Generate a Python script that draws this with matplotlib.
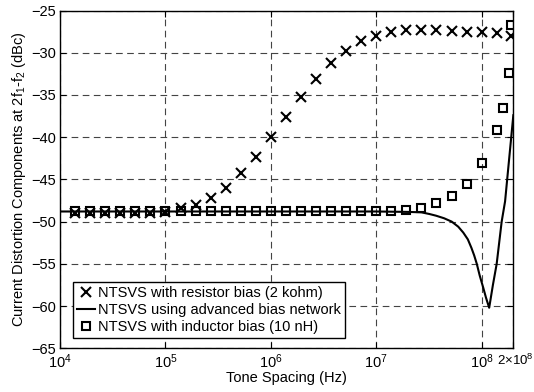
import matplotlib
matplotlib.use("Agg")
import matplotlib.pyplot as plt
import matplotlib.transforms as mtransforms

plt.rcParams['font.family'] = ['Liberation Sans', 'DejaVu Sans']
plt.rcParams['mathtext.default'] = 'regular'
plt.rcParams['font.size'] = 10

# tone spacing grid of the measured points (Hz)
freq = [1.39e4, 1.93e4, 2.68e4, 3.73e4, 5.18e4, 7.20e4,
        1e5, 1.39e5, 1.93e5, 2.68e5, 3.73e5, 5.18e5, 7.20e5,
        1e6, 1.39e6, 1.93e6, 2.68e6, 3.73e6, 5.18e6, 7.20e6,
        1e7, 1.39e7, 1.93e7, 2.68e7, 3.73e7, 5.18e7, 7.20e7,
        1e8, 1.39e8, 1.90e8]

resistor_db = [-49.0, -49.0, -49.0, -49.0, -49.0, -49.0,
               -48.9, -48.4, -48.0, -47.2, -46.0, -44.3, -42.3,
               -40.0, -37.6, -35.3, -33.1, -31.2, -29.8, -28.6,
               -28.0, -27.5, -27.3, -27.3, -27.3, -27.4, -27.5,
               -27.5, -27.7, -28.0]

ind_freq = [1.39e4, 1.93e4, 2.68e4, 3.73e4, 5.18e4, 7.20e4,
            1e5, 1.39e5, 1.93e5, 2.68e5, 3.73e5, 5.18e5, 7.20e5,
            1e6, 1.39e6, 1.93e6, 2.68e6, 3.73e6, 5.18e6, 7.20e6,
            1e7, 1.39e7, 1.93e7, 2.68e7, 3.73e7, 5.18e7, 7.20e7,
            1e8, 1.39e8, 1.58e8, 1.82e8, 1.89e8]
inductor_db = [-48.8, -48.8, -48.8, -48.8, -48.8, -48.8,
               -48.8, -48.8, -48.8, -48.8, -48.8, -48.8, -48.8,
               -48.8, -48.8, -48.8, -48.8, -48.8, -48.8, -48.8,
               -48.8, -48.75, -48.6, -48.35, -47.85, -47.0, -45.5,
               -43.0, -39.2, -36.6, -32.4, -26.7]

adv_freq = [1e4, 1e5, 1e6, 1e7, 2e7, 2.68e7, 3.2e7, 3.7e7, 4.4e7, 5.2e7,
            6.0e7, 6.7e7, 7.4e7, 8.0e7, 8.5e7, 9.0e7, 9.6e7, 1.035e8,
            1.1e8, 1.18e8, 1.28e8, 1.39e8, 1.55e8, 1.67e8, 2e8]
adv_db = [-48.8, -48.8, -48.8, -48.8, -48.85, -48.9, -49.1, -49.3, -49.6, -50.0,
          -50.6, -51.3, -52.1, -53.1, -54.0, -55.0, -56.4, -57.8,
          -59.0, -60.2, -57.5, -55.0, -50.0, -47.6, -37.4]

xticks = [1e4, 1e5, 1e6, 1e7, 1e8, 2e8]
xtick_labels = ['$10^{4}$', '$10^{5}$', '$10^{6}$', '$10^{7}$', '$10^{8}$', '$2{\\times}10^{8}$']
yticks = [-65, -60, -55, -50, -45, -40, -35, -30, -25]

fig = plt.figure(figsize=(5.34, 3.92), dpi=100)
ax = fig.add_axes([0.1125, 0.1115, 0.8488, 0.8617])

ax.plot(freq, resistor_db, 'x', color='black', markersize=7.5, markeredgewidth=1.5,
        linestyle='none', label='NTSVS with resistor bias (2 kohm)')
ax.plot(adv_freq, adv_db, '-', color='black', linewidth=1.5,
        label='NTSVS using advanced bias network')
ax.plot(ind_freq, inductor_db, 's', color='black', markerfacecolor='none', markersize=6,
        markeredgewidth=1.5, linestyle='none', label='NTSVS with inductor bias (10 nH)')

ax.set_xscale('log')
ax.set_xlim(1e4, 2e8)
ax.set_ylim(-65, -25)
ax.set_xticks(xticks)
ax.set_xticklabels(xtick_labels)
ax.minorticks_off()
ax.set_yticks(yticks)
ax.tick_params(direction='in', top=True, right=True, length=4, width=0.8, labelsize=10.5, pad=3)
ax.grid(True, color='#444444', linestyle=(0, (6, 4)), linewidth=0.8)
for s in ax.spines.values():
    s.set_linewidth(1.0)

# the 2x10^8 label sits just right of 10^8, a bit smaller so it stays inside
last = ax.get_xticklabels()[-1]
last.set_fontsize(9.5)
last.set_transform(last.get_transform() + mtransforms.ScaledTranslation(2 / 100, 0, fig.dpi_scale_trans))

ax.set_xlabel('Tone Spacing (Hz)', fontsize=10.5, labelpad=0)
ax.set_ylabel('Current Distortion Components at 2f$_1$-f$_2$ (dBc)', fontsize=10.5, labelpad=2)

leg = ax.legend(loc='lower left', bbox_to_anchor=(0.028, 0.03), fontsize=10.5, frameon=True,
                fancybox=False, edgecolor='black', framealpha=1, handlelength=1.2,
                handletextpad=0.2, borderpad=0.3, labelspacing=0.2, borderaxespad=0)
leg.get_frame().set_linewidth(1.0)

fig.savefig('out.png', dpi=100)
